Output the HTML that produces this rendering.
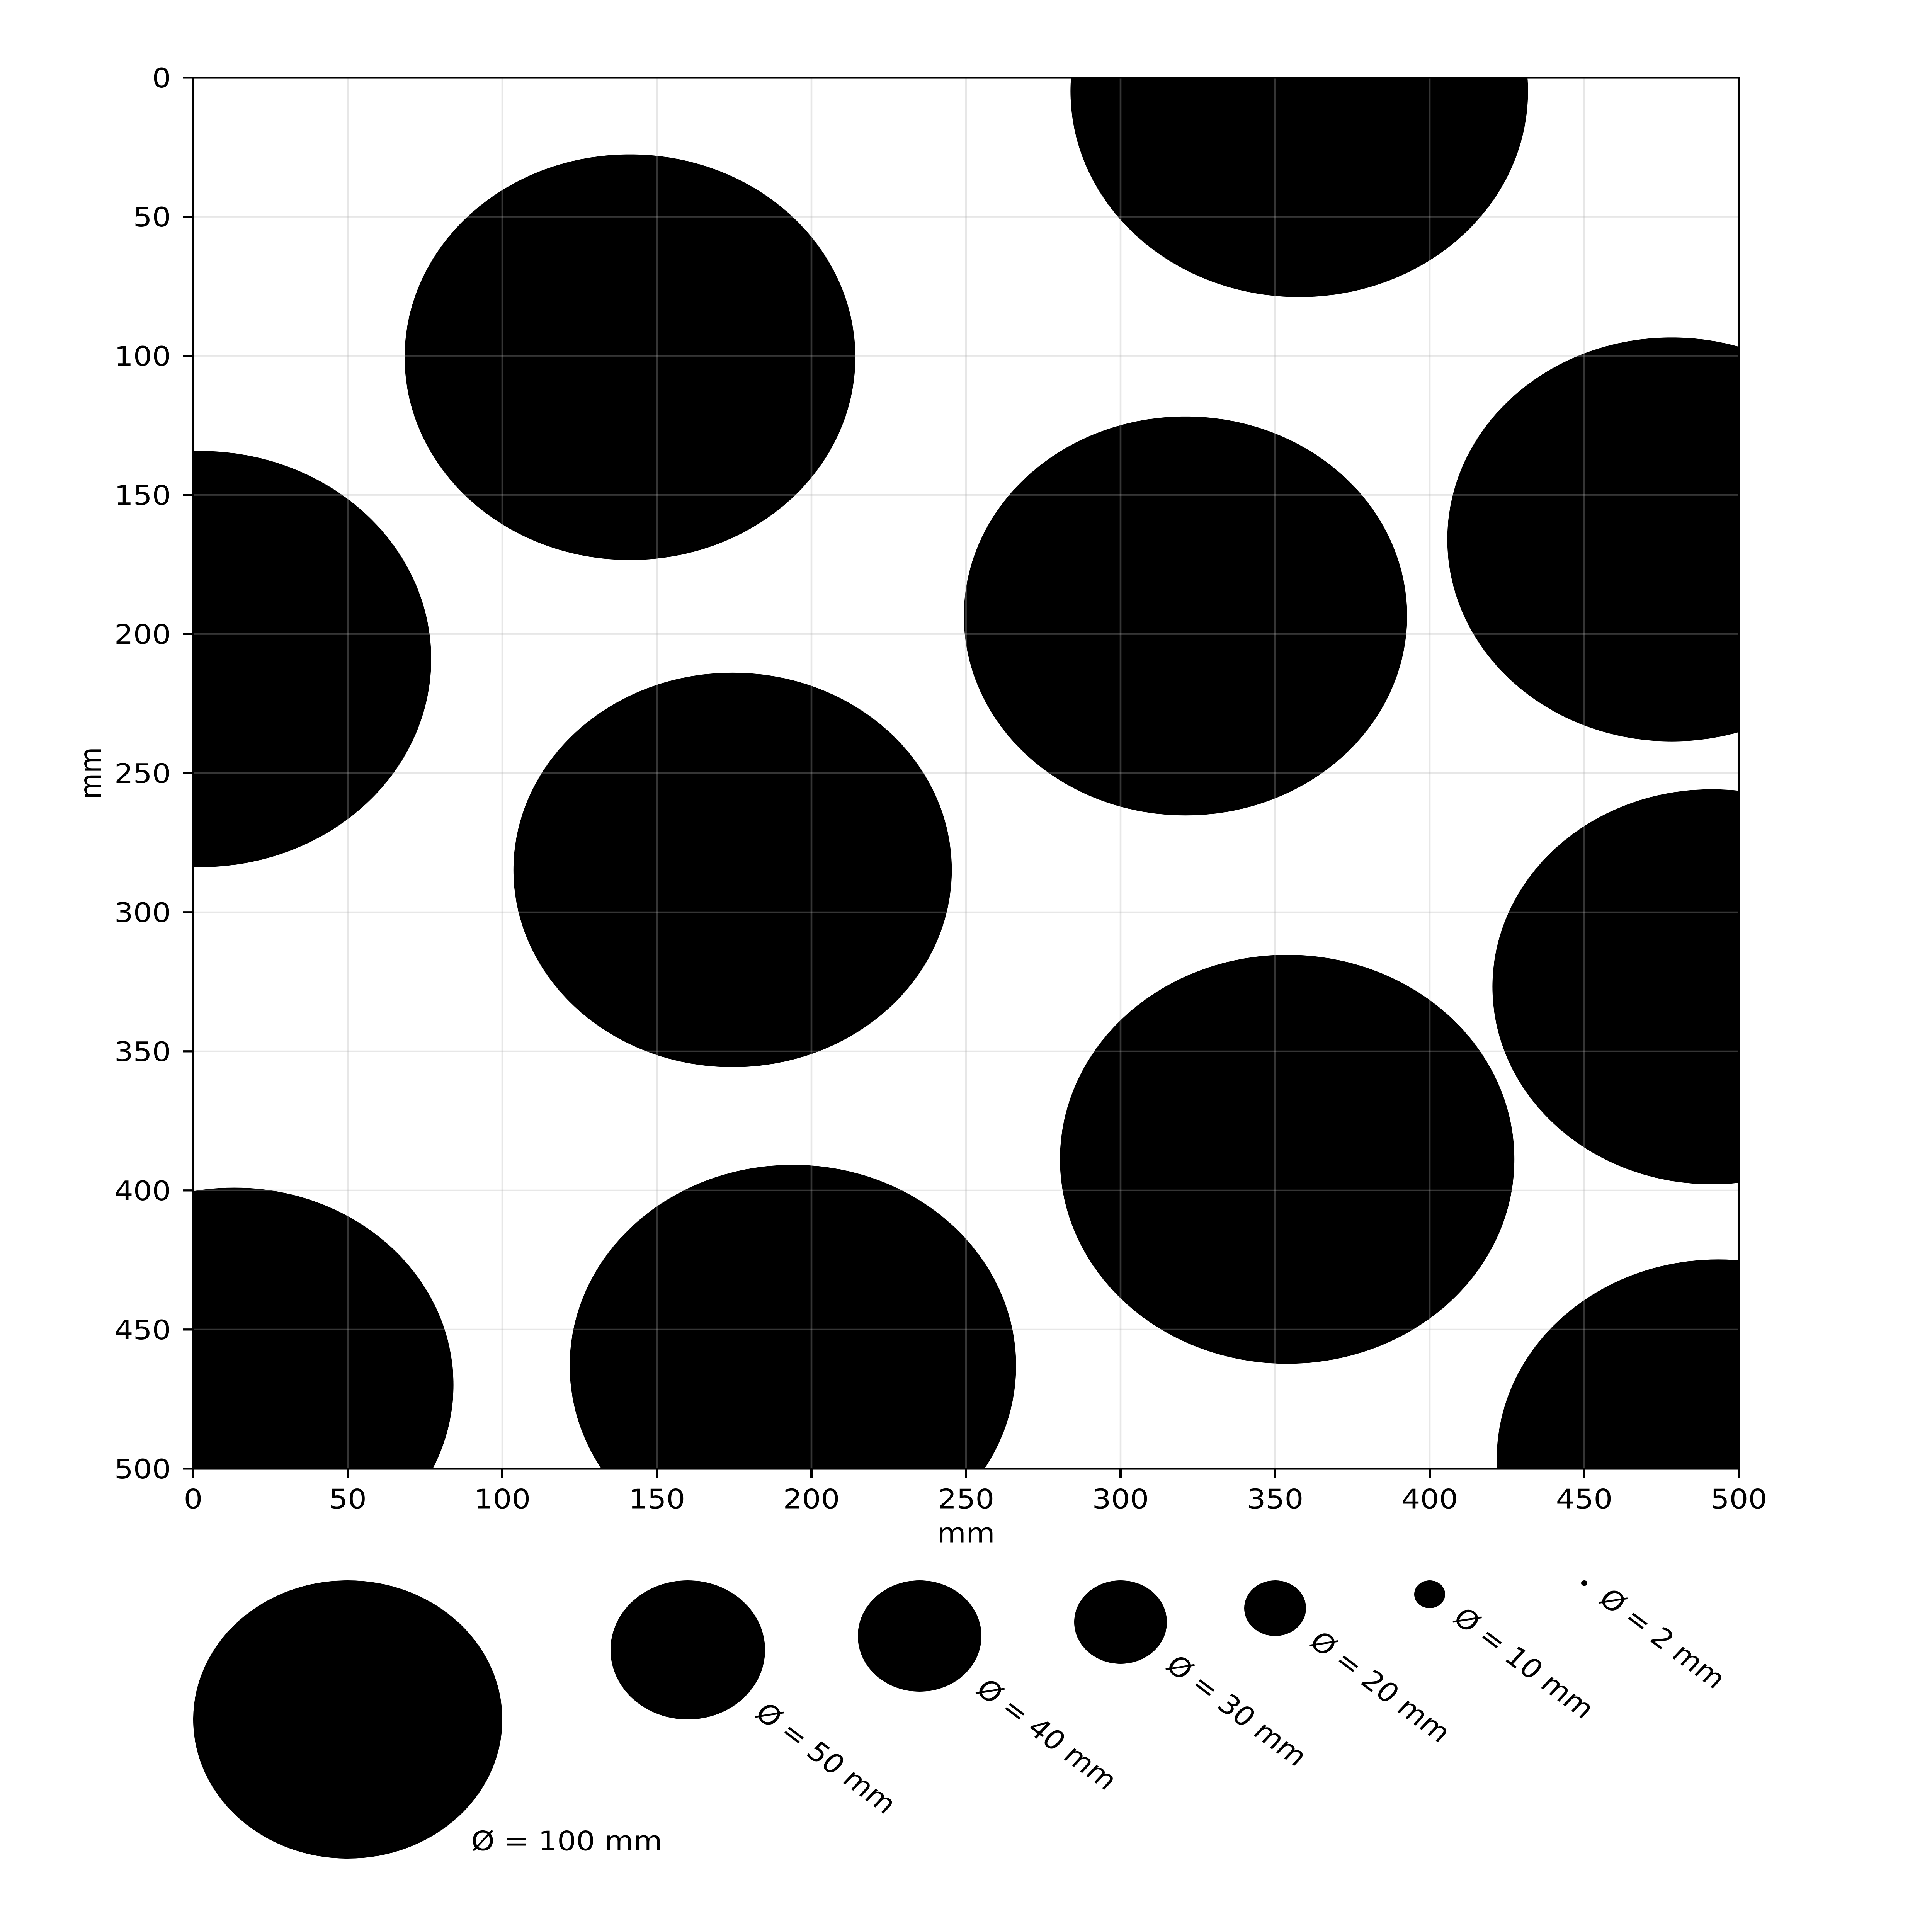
<!DOCTYPE html>
<html><head><meta charset="utf-8"><style>
html,body{margin:0;padding:0;background:#fff;width:100%;height:100%;overflow:hidden;}
svg{display:block;width:100vw;height:100vh;}
svg text{font-family:"DejaVu Sans","Liberation Sans",sans-serif;fill:#000;}
</style></head><body>
<svg id="chart" viewBox="0 0 5400 6000" preserveAspectRatio="none" xmlns="http://www.w3.org/2000/svg">
<rect width="5400" height="6000" fill="#fff"/>
<g id="circles"></g>
<g id="grid"></g>
<rect x="540" y="241" width="4320" height="4320" fill="none" stroke="#000" stroke-width="6.5"/>
<g id="ticks"></g>
<text x="2700" y="4790" font-size="83" text-anchor="middle">mm</text>
<text x="0" y="0" font-size="83" text-anchor="middle" transform="translate(282,2401) rotate(-90)">mm</text>
<g id="legend"></g>
</svg>
<script>
const cx = [141.3, 357.8, 2.2, 174.5, 321, 478.3, 491.3, 353.9, 194, 13.3, 493.4];
const cy = [100.5, 4.9, 209, 284.8, 193.5, 166, 326.8, 388.8, 463, 469.9, 496.5];
const radius = [72.9, 74, 74.8, 70.9, 71.7, 72.6, 71, 73.5, 72.2, 70.9, 71.7];
const tickValues = [0, 50, 100, 150, 200, 250, 300, 350, 400, 450, 500];
const legendDiam = [100, 50, 40, 30, 20, 10, 2];
const legendX = [50, 160, 235, 300, 350, 400, 450];
const legendLabels = ["Ø = 100 mm","Ø = 50 mm","Ø = 40 mm","Ø = 30 mm","Ø = 20 mm","Ø = 10 mm","Ø = 2 mm"];

const NS = "http://www.w3.org/2000/svg";
const L = 540, T = 241, S = 8.64, R = L + 500 * S, B = T + 500 * S;
const xs = v => L + v * S;
const ys = v => T + v * S;
function mk(tag, attrs, parent) {
  const e = document.createElementNS(NS, tag);
  for (const k in attrs) e.setAttribute(k, attrs[k]);
  parent.appendChild(e);
  return e;
}
const gC = document.getElementById('circles');
for (let i = 0; i < cx.length; i++) {
  const X = xs(cx[i]), Y = ys(cy[i]), r = radius[i] * S;
  const pts = [];
  for (let k = 0; k < 360; k++) {
    const a = k * Math.PI / 180;
    const px = Math.min(R, Math.max(L, X + r * Math.cos(a)));
    const py = Math.min(B, Math.max(T, Y + r * Math.sin(a)));
    pts.push(px.toFixed(1) + ',' + py.toFixed(1));
  }
  const c = mk('polygon', {points: pts.join(' '), fill: '#000'}, gC);
  
  
}
const gG = document.getElementById('grid');
const gT = document.getElementById('ticks');
tickValues.forEach(v => {
  const gv = mk('line', {x1: xs(v), x2: xs(v), y1: T, y2: B, stroke: '#b0b0b0', 'stroke-opacity': 0.3, 'stroke-width': 5}, gG);
  
  
  const gh = mk('line', {y1: ys(v), y2: ys(v), x1: L, x2: R, stroke: '#b0b0b0', 'stroke-opacity': 0.3, 'stroke-width': 5}, gG);
  
  
  mk('line', {x1: xs(v), x2: xs(v), y1: B, y2: B + 29, stroke: '#000', 'stroke-width': 6.5}, gT);
  mk('line', {x1: L - 29, x2: L, y1: ys(v), y2: ys(v), stroke: '#000', 'stroke-width': 6.5}, gT);
  const tx = mk('text', {x: xs(v), y: B + 123, 'font-size': 83, 'text-anchor': 'middle'}, gT);
  tx.textContent = v;
  
  
  const ty = mk('text', {x: L - 62, y: ys(v) + 30, 'font-size': 83, 'text-anchor': 'end'}, gT);
  ty.textContent = v;
  
  
});
const gL = document.getElementById('legend');
const legTop = 4908;
for (let i = 0; i < legendDiam.length; i++) {
  const r = legendDiam[i] / 2 * S;
  const x = xs(legendX[i]), y = legTop + r;
  const c = mk('circle', {cx: x, cy: y, r: r, fill: '#000'}, gL);
  
  
  let t;
  if (i === 0) {
    t = mk('text', {x: 1317, y: 5746, 'font-size': 83}, gL);
  } else {
    const ax = x + r * 0.71 + 30, ay = y + r * 0.71 + 50;
    t = mk('text', {x: 0, y: 0, 'font-size': 83, transform: 'translate(' + ax + ',' + ay + ') rotate(40)'}, gL);
  }
  t.textContent = legendLabels[i];
  
  
}
</script>
</body></html>
